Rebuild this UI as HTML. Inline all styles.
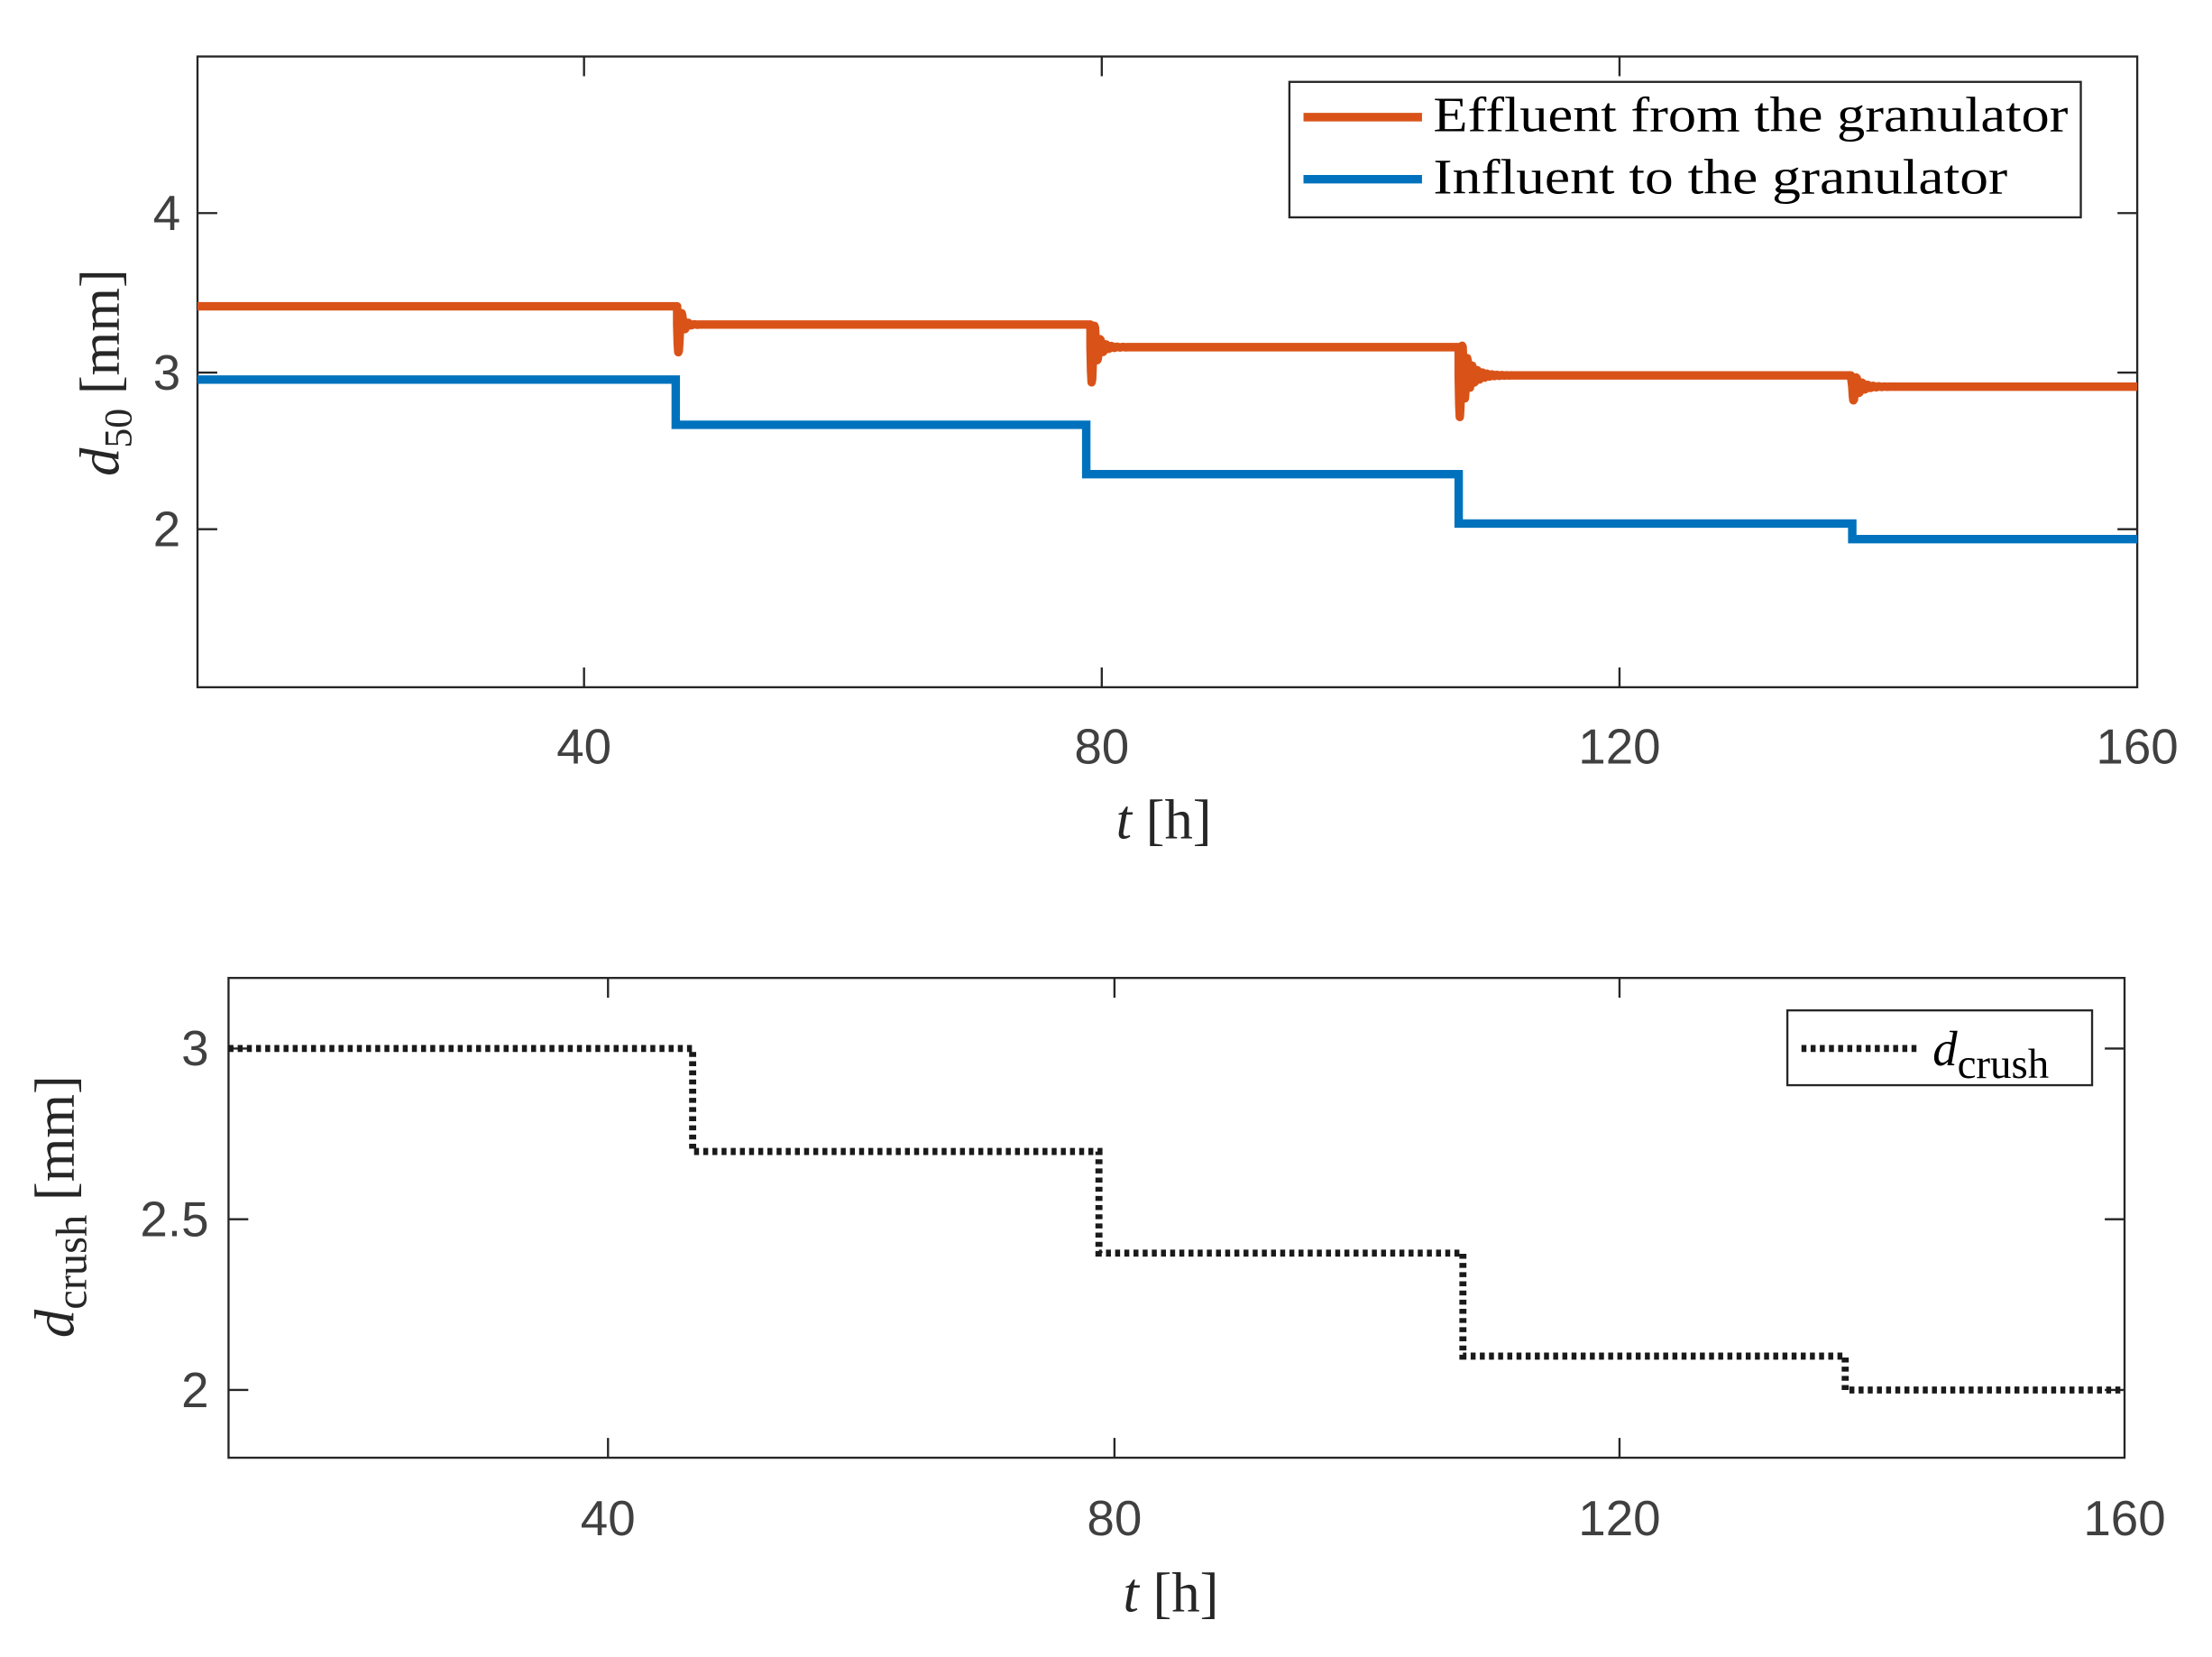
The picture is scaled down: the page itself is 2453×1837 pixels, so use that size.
<!DOCTYPE html>
<html><head><meta charset="utf-8"><style>
html,body{margin:0;padding:0;background:#fff;}
svg{display:block;}
.tk{font-family:"Liberation Sans",sans-serif;font-size:35px;fill:#404040;}
.lb{font-family:"Liberation Serif",serif;font-size:40px;fill:#262626;}
.lg{font-family:"Liberation Serif",serif;font-size:35px;fill:#000;}
</style></head><body>
<svg width="2453" height="1837" viewBox="0 0 1568 1174.2" xmlns="http://www.w3.org/2000/svg">
<rect width="1568" height="1175" fill="#fff"/>
<g stroke="#262626" stroke-width="1.5" fill="none">
<rect x="140" y="40" width="1375" height="447"/>
<path d="M414,487v-14M781,487v-14M1148,487v-14M414,40v14M781,40v14M1148,40v14M140,151h14M140,264h14M140,375h14M1515,151h-14M1515,264h-14M1515,375h-14"/>
</g>
<path id="eff" fill="none" stroke="#D95319" stroke-width="6" stroke-linejoin="round"/>
<path id="inf" fill="none" stroke="#0072BD" stroke-width="6"/>
<g class="tk" text-anchor="middle">
<text x="414" y="541">40</text><text x="781" y="541">80</text><text x="1148" y="541">120</text><text x="1515" y="541">160</text>
</g>
<g class="tk" text-anchor="end">
<text x="128" y="163">4</text><text x="128" y="276">3</text><text x="128" y="387">2</text>
</g>
<text class="lb" x="825" y="594" text-anchor="middle"><tspan font-style="italic">t</tspan> [h]</text>
<text class="lb" transform="translate(84,264) rotate(-90)" text-anchor="middle"><tspan font-style="italic">d</tspan><tspan font-size="28" dy="9">50</tspan><tspan dy="-9"> [mm]</tspan></text>
<rect x="914" y="58" width="561" height="96" fill="#fff" stroke="#262626" stroke-width="1.5"/>
<line x1="924" y1="83" x2="1008" y2="83" stroke="#D95319" stroke-width="6"/>
<line x1="924" y1="127" x2="1008" y2="127" stroke="#0072BD" stroke-width="6"/>
<text class="lg" x="1016" y="93" textLength="450" lengthAdjust="spacingAndGlyphs">Effluent from the granulator</text>
<text class="lg" x="1016" y="137" textLength="407" lengthAdjust="spacingAndGlyphs">Influent to the granulator</text>

<g stroke="#262626" stroke-width="1.5" fill="none">
<rect x="162" y="693" width="1344" height="340"/>
<path d="M431,1033v-14M790,1033v-14M1148,1033v-14M431,693v14M790,693v14M1148,693v14M162,743h14M162,864h14M162,985h14M1506,743h-14M1506,864h-14M1506,985h-14"/>
</g>
<path d="M162,743H491V816H779V888H1037V961H1308V985H1506" fill="none" stroke="#1a1a1a" stroke-width="5" stroke-dasharray="3.5,3"/>
<g class="tk" text-anchor="middle">
<text x="431" y="1088">40</text><text x="790" y="1088">80</text><text x="1148" y="1088">120</text><text x="1506" y="1088">160</text>
</g>
<g class="tk" text-anchor="end">
<text x="148" y="755">3</text><text x="148" y="876">2.5</text><text x="148" y="997">2</text>
</g>
<text class="lb" x="830" y="1142" text-anchor="middle"><tspan font-style="italic">t</tspan> [h]</text>
<text class="lb" transform="translate(52,855) rotate(-90)" text-anchor="middle"><tspan font-style="italic">d</tspan><tspan font-size="31" dy="9">crush</tspan><tspan dy="-9"> [mm]</tspan></text>
<rect x="1267" y="716" width="216" height="53" fill="#fff" stroke="#262626" stroke-width="1.5"/>
<line x1="1277" y1="743" x2="1361" y2="743" stroke="#1a1a1a" stroke-width="5" stroke-dasharray="3.5,3"/>
<text class="lg" x="1370" y="755"><tspan font-style="italic">d</tspan><tspan font-size="30" dy="9">crush</tspan></text>
</svg>
<script>
function osc(pts,x0,a,decay,per,len,yb){
  for(var x=x0;x<=x0+len;x+=0.4){var t=x-x0;pts.push([x,yb+a*Math.exp(-t/decay)*Math.sin(2*Math.PI*t/per)]);}
}
var e=[[140,217],[480,217]];
osc(e,480,30,2.5,4.5,16,230); e.push([773,230]);
osc(e,773,32,4,4,30,246); e.push([1034,246]);
osc(e,1034,34,6,3.5,45,266); e.push([1312,266]);
osc(e,1313,12,5,4,30,274); e.push([1515,274]);
var s="";e.forEach(function(p,i){s+=(i?"L":"M")+p[0].toFixed(1)+","+p[1].toFixed(1);});
document.getElementById("eff").setAttribute("d",s);
document.getElementById("inf").setAttribute("d","M140,269H479V301H770V336H1034V371H1313V382H1515");
</script>
</body></html>
